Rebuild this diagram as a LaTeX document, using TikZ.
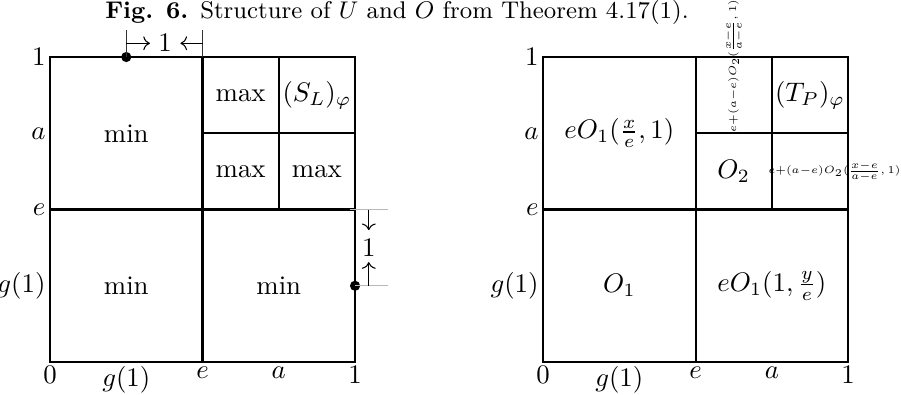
\documentclass[tikz,border=0pt]{standalone}
\usepackage{amsmath}
\usetikzlibrary{arrows.meta,positioning}

\begin{document}
\begin{tikzpicture}[
    % square, cell and label styles
    frame/.style={thick},
    cell/.style={font=\normalsize, inner sep=1pt},
    axislbl/.style={font=\normalsize, inner sep=1.5pt},
    smalllbl/.style={font=\tiny, inner sep=0pt, scale=0.78},
    dot/.style={circle, fill=black, inner sep=0pt, minimum size=3.8pt},
    dimline/.style={gray!55, thin},
    dimbar/.style={black!80, thin}
]
\useasboundingbox (-0.656,-0.42) rectangle (11.16,4.748);

% Caption
\node[font=\small] (caption) at (4.55,4.59) {\textbf{Fig. 6.}\enspace Structure of $U$ and $O$ from Theorem 4.17(1).};

% Left square: U
\begin{scope}
\draw[frame] (0,0) rectangle (4,4);
\draw[frame] (0,2) -- (4,2) (2,0) -- (2,4) (2,3) -- (4,3) (3,2) -- (3,4);

\node[axislbl, anchor=east] (ul1) at (0,4) {$1$};
\node[axislbl, anchor=east] (ula) at (0,3) {$a$};
\node[axislbl, anchor=east] (ule) at (0,2) {$e$};
\node[axislbl, anchor=east] (ulg) at (0,1) {$g(1)$};
\node[axislbl, anchor=north] (ub0) at (0,0) {$0$};
\node[axislbl, anchor=north] (ubg) at (1,0) {$g(1)$};
\node[axislbl, anchor=north] (ube) at (2,0) {$e$};
\node[axislbl, anchor=north] (uba) at (3,0) {$a$};
\node[axislbl, anchor=north] (ub1) at (4,0) {$1$};

\node[cell] (uminA) at (1,3) {min};
\node[cell] (umaxA) at (2.5,3.5) {max};
\node[cell] (usl) at (3.5,3.5) {$(S_L)_\varphi$};
\node[cell] (umaxB) at (2.5,2.5) {max};
\node[cell] (umaxC) at (3.5,2.5) {max};
\node[cell] (uminB) at (1,1) {min};
\node[cell] (uminC) at (3,1) {min};

% width 1 along the top edge
\node[dot] (topdot) at (1,4) {};
\coordinate (tbarA) at (1,4.35);
\coordinate (tbarB) at (2,4.35);
\coordinate (tarrA) at (1,4.18);
\coordinate (tarrB) at (2,4.18);
\draw[dimbar] (topdot.center) -- (tbarA);
\draw[dimbar] (2,4) -- (tbarB);
\node[axislbl] (toplen) at (1.51,4.18) {$1$};
\draw[->] (tarrA) -- ++(0.31,0);
\draw[->] (tarrB) -- ++(-0.29,0);

% height 1 along the right edge
\node[dot] (sidedot) at (4,1) {};
\coordinate (sgA) at (4.43,2);
\coordinate (sgB) at (4.43,1);
\coordinate (sarrA) at (4.18,2);
\coordinate (sarrB) at (4.18,1);
\draw[dimline] (3.93,2) -- (sgA);
\draw[dimline] (sidedot.center) -- (sgB);
\node[axislbl] (sidelen) at (4.18,1.5) {$1$};
\draw[->] (sarrA) -- ++(0,-0.27);
\draw[->] (sarrB) -- ++(0,0.31);
\end{scope}

% Right square: O
\begin{scope}[xshift=6.466cm]
\draw[frame] (0,0) rectangle (4,4);
\draw[frame] (0,2) -- (4,2) (2,0) -- (2,4) (2,3) -- (4,3) (3,2) -- (3,4);

\node[axislbl, anchor=east] (ol1) at (0,4) {$1$};
\node[axislbl, anchor=east] (ola) at (0,3) {$a$};
\node[axislbl, anchor=east] (ole) at (0,2) {$e$};
\node[axislbl, anchor=east] (olg) at (0,1) {$g(1)$};
\node[axislbl, anchor=north] (ob0) at (0,0) {$0$};
\node[axislbl, anchor=north] (obg) at (1,0) {$g(1)$};
\node[axislbl, anchor=north] (obe) at (2,0) {$e$};
\node[axislbl, anchor=north] (oba) at (3,0) {$a$};
\node[axislbl, anchor=north] (ob1) at (4,0) {$1$};

\node[cell] (oeo) at (1,3) {$eO_1(\frac{x}{e},1)$};
\node[smalllbl, rotate=90] (orot) at (2.5,3.88) {$e{+}(a{-}e)O_2(\frac{x-e}{a-e},1)$};
\node[cell] (otp) at (3.5,3.5) {$(T_P)_\varphi$};
\node[cell] (oo2) at (2.5,2.5) {$O_2$};
\node[smalllbl] (ohor) at (3.82,2.5) {$e{+}(a{-}e)O_2(\frac{x-e}{a-e},1)$};
\node[cell] (oo1) at (1,1) {$O_1$};
\node[cell] (oey) at (3,1) {$eO_1(1,\frac{y}{e})$};
\end{scope}
\end{tikzpicture}
\end{document}
